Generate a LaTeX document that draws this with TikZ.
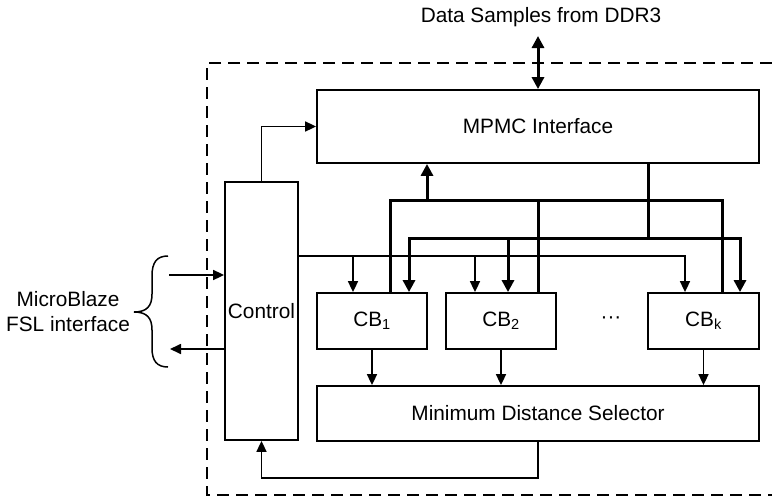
\documentclass[tikz,border=0pt]{standalone}
\usepackage{fontspec}
\setmainfont{Liberation Sans}
\usetikzlibrary{arrows.meta}
\begin{document}
\begin{tikzpicture}[x=1pt,y=-1pt,
  every node/.style={font=\fontsize{20.8}{25}\selectfont, inner sep=0pt},
  blk/.style={draw, line width=1.8pt, minimum width=#1},
  wire/.style={line width=1.7pt},
  wirearr/.style={wire, -{Triangle[length=11pt,width=10pt]}},
  bus/.style={line width=3pt},
  busarr/.style={bus, -{Triangle[length=12pt,width=12pt]}},
  frame/.style={line width=1.7pt, dash pattern=on 12pt off 7pt}]
\useasboundingbox (0,0) rectangle (772,498);

% enclosing dashed boundary (open to the right)
\draw[frame] (772,63) -- (207,63) -- (207,495) -- (772,495);

% blocks
\node[blk=442pt, minimum height=73pt] (mpmc) at (538,126.5) {MPMC Interface};
\node[blk=73pt, minimum height=258pt] (ctrl) at (261.5,311) {Control};
\node[blk=110pt, minimum height=56pt] (cb1) at (372,321) {CB\textsubscript{1}};
\node[blk=110pt, minimum height=56pt] (cb2) at (501,321) {CB\textsubscript{2}};
\node[blk=111pt, minimum height=56pt] (cbk) at (703.5,321) {CB\textsubscript{k}};
\node (dots) at (611,320) {\textperiodcentered\textperiodcentered\textperiodcentered};
\node[blk=442pt, minimum height=55pt] (mds) at (538,413.5) {Minimum Distance Selector};

% outside labels
\node (ddr) at (541,17) {Data Samples from DDR3};
\node[align=center] (fsl) at (68,312) {MicroBlaze\\FSL interface};

% bus junction points
\coordinate (dtop) at (538,36);
\coordinate (u1) at (390,200);
\coordinate (u2) at (538,200);
\coordinate (uk) at (722,200);
\coordinate (ua) at (427,200);
\coordinate (lm) at (648,238);
\coordinate (l1) at (409,238);
\coordinate (l2) at (508,238);
\coordinate (lk) at (740,238);
\coordinate (c1) at (353,256);
\coordinate (c2) at (475,256);
\coordinate (ck) at (685,256);
\coordinate (fin) at (169,275);
\coordinate (fout) at (170,349);

% DDR3 data port
\draw[bus, {Triangle[length=12pt,width=12pt]}-{Triangle[length=12pt,width=12pt]}] (dtop) -- (mpmc.north);

% codebook results back to MPMC
\draw[bus] (cb1.north -| u1) |- (uk) -- (cbk.north -| uk);
\draw[bus] (cb2.north -| u2) -- (u2);
\draw[busarr] (ua) -- (mpmc.south -| ua);

% MPMC samples to codebooks
\draw[busarr] (mpmc.south -| lm) -- (lm) -| (cbk.north -| lk);
\draw[busarr] (lm) -| (cb1.north -| l1);
\draw[busarr] (l2) -- (cb2.north -| l2);

% control lines
\draw[wirearr] (ctrl.north) |- (mpmc.west);
\draw[wirearr] (ctrl.east |- ck) -| (cbk.north -| ck);
\draw[wirearr] (c1) -- (cb1.north -| c1);
\draw[wirearr] (c2) -- (cb2.north -| c2);

% codebooks to selector
\draw[wirearr] (cb1.south) -- (mds.north -| cb1.south);
\draw[wirearr] (cb2.south) -- (mds.north -| cb2.south);
\draw[wirearr] (cbk.south) -- (mds.north -| cbk.south);

% selector feedback to control
\draw[wirearr] (mds.south) -- ++(0,36) -| (ctrl.south);

% FSL interface
\draw[wirearr] (fin) -- (ctrl.west |- fin);
\draw[wirearr] (ctrl.west |- fout) -- (fout);
\draw[line width=1.5pt] (168,256) .. controls (157,256) and (152,262) .. (152,276)
  -- (152,294) .. controls (152,306) and (147,312) .. (134,312)
  .. controls (147,312) and (152,318) .. (152,330)
  -- (152,348) .. controls (152,361) and (157,367) .. (168,367);
\end{tikzpicture}
\end{document}
